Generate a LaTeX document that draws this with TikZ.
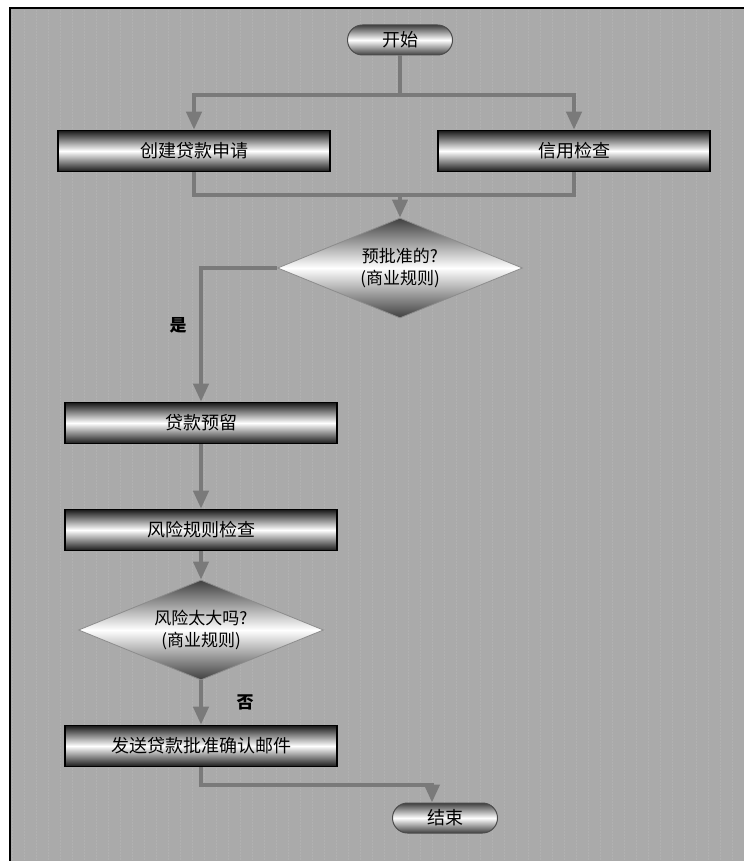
\documentclass[tikz,border=0pt]{standalone}
\usepackage{fontspec}
\newfontfamily\cjk{Noto Sans CJK SC}
\usepackage{tikz}
\usetikzlibrary{arrows.meta,shapes.geometric}

\definecolor{bg}{HTML}{AAAAAA}
\definecolor{ln}{HTML}{7A7A7A}

\begin{document}
\begin{tikzpicture}[x=1pt,y=-1pt,>={Triangle[width=15pt,length=18pt]},
  box/.style={draw=black,line width=1.6pt,top color=black!90,bottom color=black!90,middle color=white,minimum width=272pt,minimum height=41pt,inner sep=0pt,font=\cjk\fontsize{18}{20}\selectfont},
  pill/.style={draw=black!70,line width=1pt,rounded corners=15pt,top color=black!75,bottom color=black!75,middle color=white,minimum width=105pt,minimum height=30pt,inner sep=0pt,font=\cjk\fontsize{18}{20}\selectfont},
  ask/.style={diamond,draw=black!45,line width=0.8pt,aspect=2.44,top color=black!75,bottom color=black!75,middle color=white,minimum width=245pt,minimum height=100pt,inner sep=0pt,align=center,font=\cjk\fontsize{17}{22}\selectfont},
  wire/.style={draw=ln,line width=4pt},
  lab/.style={font=\cjk\bfseries\fontsize{17}{20}\selectfont}]
\useasboundingbox (0,0) rectangle (744,861);
\fill[white] (0,0) rectangle (744,861);
\fill[bg] (10,8) rectangle (744,861);
\draw[white,opacity=0.09,line width=0.5pt,densely dotted,step=12] (10,8) grid (744,861);
\draw[black,line width=2pt] (10,861) -- (10,8) -- (744,8);
\node[pill] (start) at (400,40) {开始};
\node[box] (apply) at (194,151) {创建贷款申请};
\node[box] (credit) at (574,151) {信用检查};
\node[ask] (pre) at (400,268) {预批准的?\\(商业规则)};
\node[box] (hold) at (201,423) {贷款预留};
\node[box] (risk) at (201,530) {风险规则检查};
\node[ask] (big) at (201,630) {风险太大吗?\\(商业规则)};
\node[box] (mail) at (201,746) {发送贷款批准确认邮件};
\node[pill] (end) at (445,818) {结束};
\draw[wire] (start.south) -- (400,95) coordinate (fork);
\draw[wire,->] (fork) -| (apply.north);
\draw[wire,->] (fork) -| (credit.north);
\draw[wire] (apply.south) |- (400,195) coordinate (merge) -| (credit.south);
\draw[wire,->] (merge) -- (pre.north);
\draw[wire,->] (pre.west) -| (hold.north);
\node[lab] (yes) at (178,325) {是};
\draw[wire,->] (hold) -- (risk);
\draw[wire,->] (risk) -- (big);
\draw[wire,->] (big) -- (mail);
\node[lab] (no) at (245,702) {否};
\draw[wire,->] (mail.south) |- (432,785) coordinate (drop) -- (drop |- end.north);
\end{tikzpicture}
\end{document}
